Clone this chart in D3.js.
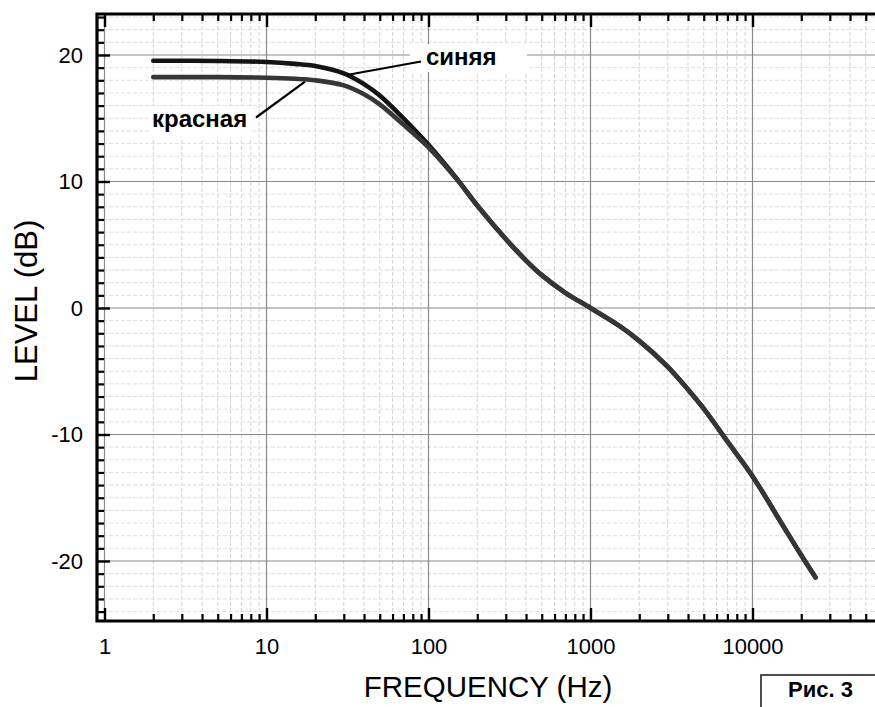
<!DOCTYPE html>
<html>
<head>
<meta charset="utf-8">
<script src="https://cdn.jsdelivr.net/npm/d3@7"></script>
<style>
  body { margin: 0; background: #fff; }
  svg { display: block; font-family: "Liberation Sans", Arial, sans-serif; }
</style>
</head>
<body>
<div id="chart"></div>
<script>
// ---- data ----
const freqBlue = [2, 5, 10, 15, 20, 30, 40, 50, 70, 100, 150, 200, 300, 400, 500, 700, 1000, 1500, 2000, 3000, 4000, 5000, 7000, 10000, 15000, 20000, 24500];
const levelBlue = [19.55, 19.53, 19.45, 19.3, 19.13, 18.55, 17.7, 16.8, 15.0, 12.9, 10.2, 8.1, 5.45, 3.75, 2.6, 1.2, 0, -1.4, -2.6, -4.65, -6.45, -7.95, -10.55, -13.3, -16.95, -19.55, -21.3];

const freqRed = [2, 5, 10, 15, 20, 30, 40, 50, 70, 100, 150, 200, 300, 400, 500, 700, 1000, 1500, 2000, 3000, 4000, 5000, 7000, 10000, 15000, 20000, 24500];
const levelRed = [18.25, 18.25, 18.2, 18.12, 18.0, 17.6, 16.9, 16.1, 14.5, 12.7, 10.15, 8.1, 5.45, 3.75, 2.6, 1.2, 0, -1.4, -2.6, -4.65, -6.45, -7.95, -10.55, -13.3, -16.95, -19.55, -21.3];

const xMajorTicks = [1, 10, 100, 1000, 10000];
const yMajorTicks = [-20, -10, 0, 10, 20];

const W = 875, H = 707;
const frame = { left: 97, top: 14, bottom: 621, right: 880 };

const svg = d3.select("#chart").append("svg")
    .attr("width", W)
    .attr("height", H);

// scales
const x = d3.scaleLog().domain([1, 10000]).range([104.5, 752.5]);
const y = d3.scaleLinear().domain([-20, 20]).range([561, 55]);

// minor tick values
let xMinor = [];
for (let dec = 1; dec <= 10000; dec *= 10) {
    for (let m = 2; m <= 9; m++) xMinor.push(m * dec);
}
let yMinor = d3.range(-24, 24).filter(v => v % 10 !== 0);

// ---- grid ----
const grid = svg.append("g");
grid.selectAll(".vminor").data(xMinor).join("line")
    .attr("x1", d => x(d)).attr("x2", d => x(d))
    .attr("y1", frame.top).attr("y2", frame.bottom)
    .attr("stroke", "#d6d6d6").attr("stroke-width", 1).attr("stroke-dasharray", "4,2");
grid.selectAll(".hminor").data(yMinor).join("line")
    .attr("x1", frame.left).attr("x2", frame.right)
    .attr("y1", d => y(d)).attr("y2", d => y(d))
    .attr("stroke", "#dedede").attr("stroke-width", 1).attr("stroke-dasharray", "4,2");
grid.selectAll(".vmajor").data(xMajorTicks).join("line")
    .attr("x1", d => x(d)).attr("x2", d => x(d))
    .attr("y1", frame.top).attr("y2", frame.bottom)
    .attr("stroke", "#8a8a8a").attr("stroke-width", 1.2);
grid.selectAll(".hmajor").data(yMajorTicks).join("line")
    .attr("x1", frame.left).attr("x2", frame.right)
    .attr("y1", d => y(d)).attr("y2", d => y(d))
    .attr("stroke", "#8a8a8a").attr("stroke-width", 1.2);

// ---- label backgrounds (hide grid behind text) ----
svg.append("rect").attr("x", 410).attr("y", 44).attr("width", 117).attr("height", 28).attr("fill", "#fff");
svg.append("rect").attr("x", 149).attr("y", 106).attr("width", 104).attr("height", 31).attr("fill", "#fff");

// ---- curves ----
const line = d3.line()
    .x(d => x(d[0]))
    .y(d => y(d[1]))
    .curve(d3.curveCatmullRom.alpha(0.5));

svg.append("path")
    .datum(freqBlue.map((f, i) => [f, levelBlue[i]]))
    .attr("d", line)
    .attr("fill", "none")
    .attr("stroke", "#141414")
    .attr("stroke-width", 4.6)
    .attr("stroke-linecap", "round");

svg.append("path")
    .datum(freqRed.map((f, i) => [f, levelRed[i]]))
    .attr("d", line)
    .attr("fill", "none")
    .attr("stroke", "#363636")
    .attr("stroke-width", 4.6)
    .attr("stroke-linecap", "round");

// ---- annotations ----
svg.append("line")
    .attr("x1", x(31.3)).attr("y1", y(18.42))
    .attr("x2", 421).attr("y2", 61.5)
    .attr("stroke", "#000").attr("stroke-width", 2.2);
svg.append("text")
    .attr("x", 426).attr("y", 65)
    .attr("font-size", 24).attr("font-weight", "bold")
    .text("синяя");

svg.append("line")
    .attr("x1", x(17.3)).attr("y1", y(17.9))
    .attr("x2", 256).attr("y2", 117.5)
    .attr("stroke", "#000").attr("stroke-width", 2.2);
svg.append("text")
    .attr("x", 152).attr("y", 127)
    .attr("font-size", 24).attr("font-weight", "bold")
    .text("красная");

// ---- axes ----
const fmt = d => String(d);

// bottom
svg.append("g").attr("transform", `translate(0,${frame.bottom})`)
    .call(d3.axisBottom(x).tickValues(xMinor).tickSize(-7).tickFormat(""))
    .call(g => g.select(".domain").remove())
    .call(g => g.selectAll("line").attr("stroke-width", 2.2));
svg.append("g").attr("transform", `translate(0,${frame.bottom})`)
    .call(d3.axisBottom(x).tickValues(xMajorTicks).tickSize(-13).tickPadding(17).tickFormat(fmt))
    .call(g => g.select(".domain").remove())
    .call(g => g.selectAll("line").attr("stroke-width", 2.4))
    .call(g => g.selectAll("text").attr("font-size", 22).attr("fill", "#000").attr("font-family", "Liberation Sans, Arial, sans-serif"));

// top
svg.append("g").attr("transform", `translate(0,${frame.top})`)
    .call(d3.axisTop(x).tickValues(xMinor).tickSize(-7).tickFormat(""))
    .call(g => g.select(".domain").remove())
    .call(g => g.selectAll("line").attr("stroke-width", 2.2));
svg.append("g").attr("transform", `translate(0,${frame.top})`)
    .call(d3.axisTop(x).tickValues(xMajorTicks).tickSize(-13).tickFormat(""))
    .call(g => g.select(".domain").remove())
    .call(g => g.selectAll("line").attr("stroke-width", 2.4));

// left
svg.append("g").attr("transform", `translate(${frame.left},0)`)
    .call(d3.axisLeft(y).tickValues(yMinor).tickSize(-7).tickFormat(""))
    .call(g => g.select(".domain").remove())
    .call(g => g.selectAll("line").attr("stroke-width", 2.2));
svg.append("g").attr("transform", `translate(${frame.left},0)`)
    .call(d3.axisLeft(y).tickValues(yMajorTicks).tickSize(-13).tickPadding(14).tickFormat(fmt))
    .call(g => g.select(".domain").remove())
    .call(g => g.selectAll("line").attr("stroke-width", 2.4))
    .call(g => g.selectAll("text").attr("font-size", 22).attr("fill", "#000").attr("font-family", "Liberation Sans, Arial, sans-serif"));

// frame lines
svg.append("path")
    .attr("d", `M${frame.right},${frame.top}H${frame.left}V${frame.bottom}H${frame.right}`)
    .attr("fill", "none")
    .attr("stroke", "#000")
    .attr("stroke-width", 3.2);

// axis titles
svg.append("text")
    .attr("x", 488).attr("y", 697)
    .attr("text-anchor", "middle")
    .attr("font-size", 29.5)
    .text("FREQUENCY (Hz)");

svg.append("text")
    .attr("transform", "translate(37,301) rotate(-90)")
    .attr("text-anchor", "middle")
    .attr("font-size", 31)
    .text("LEVEL (dB)");

// figure tag
svg.append("rect")
    .attr("x", 761).attr("y", 675)
    .attr("width", 130).attr("height", 40)
    .attr("fill", "#fff")
    .attr("stroke", "#222")
    .attr("stroke-width", 1.6);
svg.append("text")
    .attr("x", 788).attr("y", 697)
    .attr("font-size", 22).attr("font-weight", "bold")
    .text("Рис. 3");
</script>
</body>
</html>
